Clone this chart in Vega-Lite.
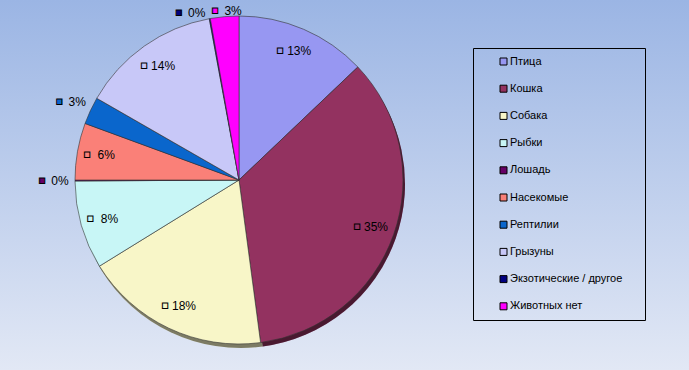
{
  "$schema": "https://vega.github.io/schema/vega-lite/v6.json",
  "width": 689,
  "height": 370,
  "padding": 0,
  "autosize": {"type": "none"},
  "config": {
    "view": {
      "stroke": null,
      "fill": {"gradient": "linear", "x1": 0, "y1": 0, "x2": 0, "y2": 1,
        "stops": [{"offset": 0, "color": "#9BB5E4"}, {"offset": 1, "color": "#E2E8F5"}]}
    },
    "font": "Liberation Sans"
  },
  "data": {
    "values": [
      {"k": 1, "cat": "Птица", "v": 12.9, "lbl": "13%"},
      {"k": 2, "cat": "Кошка", "v": 35.0, "lbl": "35%"},
      {"k": 3, "cat": "Собака", "v": 18.3, "lbl": "18%"},
      {"k": 4, "cat": "Рыбки", "v": 8.7, "lbl": "8%"},
      {"k": 5, "cat": "Лошадь", "v": 0.1, "lbl": "0%"},
      {"k": 6, "cat": "Насекомые", "v": 5.6, "lbl": "6%"},
      {"k": 7, "cat": "Рептилии", "v": 2.7, "lbl": "3%"},
      {"k": 8, "cat": "Грызуны", "v": 13.8, "lbl": "14%"},
      {"k": 9, "cat": "Экзотические / другое", "v": 0.1, "lbl": "0%"},
      {"k": 10, "cat": "Животных нет", "v": 2.8, "lbl": "3%"}
    ]
  },
  "encoding": {
    "theta": {"field": "v", "type": "quantitative", "stack": true},
    "order": {"field": "k", "type": "quantitative"},
    "x": {"value": 239},
    "y": {"value": 180},
    "color": {
      "field": "cat", "type": "nominal", "sort": null,
      "scale": {
        "domain": ["Птица", "Кошка", "Собака", "Рыбки", "Лошадь", "Насекомые", "Рептилии", "Грызуны", "Экзотические / другое", "Животных нет"],
        "range": ["#9797F2", "#933260", "#F8F6C8", "#C8F6F6", "#660066", "#FA8078", "#0A66CC", "#C8C8F8", "#000080", "#FF00FF"]
      },
      "legend": {
        "title": " ",
        "titleOrient": "right",
        "titleFontSize": 8,
        "titlePadding": 15,
        "orient": "none",
        "legendX": 473,
        "legendY": 48,
        "padding": 8,
        "strokeColor": "#000000",
        "symbolType": "square",
        "symbolSize": 49,
        "symbolOpacity": 1,
        "symbolStrokeColor": "#000000",
        "symbolStrokeWidth": 1,
        "symbolOffset": 17,
        "labelOffset": 1,
        "labelFontSize": 11,
        "labelColor": "#000000",
        "labelFont": "Liberation Sans",
        "rowPadding": 15.2,
        "labelLimit": 300
      }
    }
  },
  "layer": [
    {
      "mark": {"type": "arc", "outerRadius": 164},
      "encoding": {"x": {"value": 241}, "y": {"value": 184}}
    },
    {
      "mark": {"type": "arc", "outerRadius": 164, "fill": "#000000", "opacity": 0.5},
      "encoding": {"x": {"value": 241}, "y": {"value": 184}}
    },
    {
      "mark": {"type": "arc", "outerRadius": 164, "stroke": "#333333", "strokeWidth": 0.6}
    },
    {
      "mark": {"type": "text", "radius": 140, "dx": 5, "align": "center", "baseline": "middle", "fontSize": 12, "font": "Liberation Sans"},
      "encoding": {
        "text": {"condition": {"test": "datum.v >= 4", "field": "lbl"}, "value": ""},
        "color": {"value": "#000000"}
      }
    },
    {
      "mark": {"type": "text", "radius": 140, "dx": -14, "align": "center", "baseline": "middle", "fontSize": 11, "text": "■", "stroke": "#000000", "strokeWidth": 1},
      "encoding": {
        "opacity": {"condition": {"test": "datum.v >= 4", "value": 1}, "value": 0}
      }
    },
    {
      "mark": {"type": "text", "radius": 184, "dx": 5, "align": "center", "baseline": "middle", "fontSize": 12, "font": "Liberation Sans"},
      "encoding": {
        "text": {"condition": {"test": "datum.k == 5 || datum.k == 7", "field": "lbl"}, "value": ""},
        "color": {"value": "#000000"}
      }
    },
    {
      "mark": {"type": "text", "radius": 184, "dx": -13, "align": "center", "baseline": "middle", "fontSize": 11, "text": "■", "stroke": "#000000", "strokeWidth": 1},
      "encoding": {
        "opacity": {"condition": {"test": "datum.k == 5 || datum.k == 7", "value": 1}, "value": 0}
      }
    },
    {
      "mark": {"type": "text", "radius": 170, "dx": -12, "align": "center", "baseline": "middle", "fontSize": 12, "font": "Liberation Sans"},
      "encoding": {
        "text": {"condition": {"test": "datum.k == 9", "field": "lbl"}, "value": ""},
        "color": {"value": "#000000"}
      }
    },
    {
      "mark": {"type": "text", "radius": 170, "dx": -30, "align": "center", "baseline": "middle", "fontSize": 11, "text": "■", "stroke": "#000000", "strokeWidth": 1},
      "encoding": {
        "opacity": {"condition": {"test": "datum.k == 9", "value": 1}, "value": 0}
      }
    },
    {
      "mark": {"type": "text", "radius": 170, "dx": 9, "align": "center", "baseline": "middle", "fontSize": 12, "font": "Liberation Sans"},
      "encoding": {
        "text": {"condition": {"test": "datum.k == 10", "field": "lbl"}, "value": ""},
        "color": {"value": "#000000"}
      }
    },
    {
      "mark": {"type": "text", "radius": 170, "dx": -9, "align": "center", "baseline": "middle", "fontSize": 11, "text": "■", "stroke": "#000000", "strokeWidth": 1},
      "encoding": {
        "opacity": {"condition": {"test": "datum.k == 10", "value": 1}, "value": 0}
      }
    }
  ]
}
